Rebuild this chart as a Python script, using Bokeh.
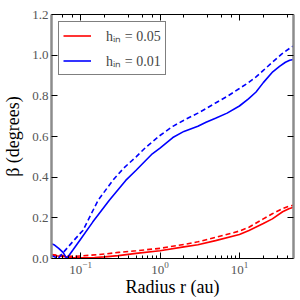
from bokeh.plotting import figure
from bokeh.models import LogAxis, LinearAxis, Legend, LegendItem, FixedTicker, NumeralTickFormatter, Range1d, CustomJSTickFormatter
from bokeh.embed import file_html
from bokeh.resources import INLINE

# ---- data ----
r_blue_solid = [0.043, 0.047, 0.053, 0.06, 0.067, 0.08, 0.1, 0.142, 0.23, 0.37, 0.5, 0.8, 1.0, 1.45, 2.0, 3.0, 3.8, 5.0, 7.0, 10.0, 13.0, 16.2, 20.0, 26.3, 32.0, 38.0, 43.0, 48.0]
v_blue_solid = [0.072, 0.066, 0.05, 0.03, 0.0, 0.042, 0.095, 0.179, 0.286, 0.384, 0.434, 0.515, 0.543, 0.595, 0.625, 0.65, 0.67, 0.69, 0.715, 0.75, 0.785, 0.819, 0.865, 0.918, 0.945, 0.965, 0.975, 0.979]

r_blue_dash = [0.043, 0.047, 0.052, 0.07, 0.1, 0.107, 0.166, 0.254, 0.35, 0.5, 0.667, 1.0, 1.45, 2.0, 3.0, 3.8, 5.0, 7.0, 10.0, 13.0, 16.2, 20.0, 26.3, 34.0, 42.7, 48.0]
v_blue_dash = [0.015, 0.008, 0.0, 0.058, 0.126, 0.138, 0.286, 0.384, 0.445, 0.5, 0.548, 0.605, 0.65, 0.68, 0.715, 0.737, 0.765, 0.797, 0.836, 0.865, 0.893, 0.925, 0.967, 1.005, 1.033, 1.046]

r_red_solid = [0.043, 0.06, 0.08, 0.1, 0.15, 0.2, 0.3, 0.5, 1.0, 2.0, 3.0, 5.0, 10.0, 13.2, 20.0, 26.0, 35.0, 42.0, 48.0]
v_red_solid = [0.015, 0.01, 0.004, 0.003, 0.005, 0.008, 0.014, 0.025, 0.038, 0.057, 0.068, 0.088, 0.118, 0.138, 0.172, 0.195, 0.23, 0.245, 0.252]

r_red_dash = [0.043, 0.06, 0.08, 0.1, 0.2, 0.3, 0.5, 1.0, 2.0, 3.0, 5.0, 10.0, 13.2, 20.0, 26.0, 35.0, 42.0, 48.0]
v_red_dash = [0.02, 0.014, 0.011, 0.012, 0.022, 0.03, 0.038, 0.05, 0.069, 0.082, 0.104, 0.135, 0.154, 0.195, 0.22, 0.245, 0.257, 0.262]

y_ticks = [0.0, 0.2, 0.4, 0.6, 0.8, 1.0, 1.2]
labels = ["h\u1d62\u2099 = 0.05", "h\u1d62\u2099 = 0.01"]

FONT = "'Liberation Serif'"

p = figure(x_axis_type="log", x_range=Range1d(0.043, 48), y_range=Range1d(0, 1.2),
           frame_width=242, frame_height=244,
           min_border_left=49, min_border_right=2, min_border_top=14, min_border_bottom=30,
           output_backend="svg", toolbar_location=None)
p.xgrid.visible = False
p.ygrid.visible = False
p.outline_line_color = None

w = 1.6
rs = p.line(r_red_solid, v_red_solid, line_color="#ff0000", line_width=w)
p.line(r_red_dash, v_red_dash, line_color="#ff0000", line_width=w, line_dash="5 3")
bs = p.line(r_blue_solid, v_blue_solid, line_color="#0000ff", line_width=w)
p.line(r_blue_dash, v_blue_dash, line_color="#0000ff", line_width=w, line_dash="5 3")

def style_axis(ax):
    ax.major_tick_in = 6
    ax.major_tick_out = 0
    ax.minor_tick_in = 3
    ax.minor_tick_out = 0
    ax.major_label_text_font = FONT
    ax.major_label_text_font_size = "13px"
    ax.major_label_text_color = "#555555"
    ax.axis_label_text_font = FONT
    ax.axis_label_text_font_size = "18px"
    ax.axis_label_text_font_style = "normal"
    ax.axis_label_text_color = "black"
    ax.major_label_standoff = 3
    ax.axis_line_color = "black"
    ax.axis_line_width = 1.2

xa = p.xaxis[0]
style_axis(xa)
xa.axis_label = "Radius r (au)"
xa.axis_label_standoff = 0

ya = p.yaxis[0]
style_axis(ya)
ya.ticker = FixedTicker(ticks=y_ticks)
ya.formatter = NumeralTickFormatter(format="0.0")
ya.minor_tick_in = 0
ya.axis_label = "\u03b2 (degrees)"
ya.axis_label_standoff = 6
ya.major_label_standoff = 3
ya.axis_line_color = "#8c8c8c"
ya.axis_line_width = 2.5

blank = CustomJSTickFormatter(code="return ''")

top = LogAxis(formatter=blank)
style_axis(top)
top.major_label_standoff = 0
p.add_layout(top, "above")

right = LinearAxis(ticker=FixedTicker(ticks=y_ticks), formatter=blank)
style_axis(right)
right.minor_tick_in = 0
right.major_label_standoff = 0
right.axis_line_color = "#8c8c8c"
right.axis_line_width = 2.5
p.add_layout(right, "right")

legend = Legend(items=[LegendItem(label=labels[0], renderers=[rs]),
                       LegendItem(label=labels[1], renderers=[bs])],
                location="top_left")
legend.margin = 7
legend.padding = 4
legend.label_height = 17
legend.glyph_height = 17
legend.spacing = 6
legend.glyph_width = 28
legend.label_standoff = 15
legend.label_text_font = FONT
legend.label_text_font_size = "14px"
legend.label_text_font_style = "normal"
legend.border_line_color = "black"
legend.border_line_width = 1
legend.background_fill_alpha = 1
p.add_layout(legend, "center")

open("out.html", "w").write(file_html(p, INLINE))
